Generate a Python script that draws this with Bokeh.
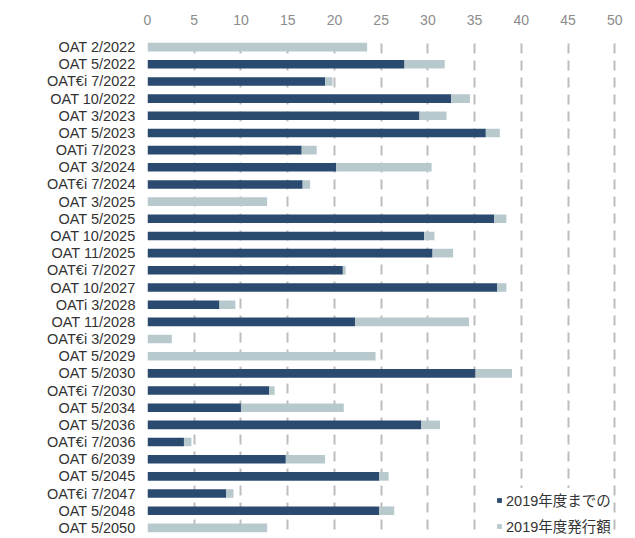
from bokeh.plotting import figure
from bokeh.models import (ColumnDataSource, FactorRange, Range1d, SingleIntervalTicker,
                          Legend, LegendItem)
from bokeh.embed import file_html
from bokeh.resources import INLINE

categories = ["OAT 2/2022", "OAT 5/2022", "OAT€i 7/2022", "OAT 10/2022", "OAT 3/2023", "OAT 5/2023",
              "OATi 7/2023", "OAT 3/2024", "OAT€i 7/2024", "OAT 3/2025", "OAT 5/2025", "OAT 10/2025",
              "OAT 11/2025", "OAT€i 7/2027", "OAT 10/2027", "OATi 3/2028", "OAT 11/2028", "OAT€i 3/2029",
              "OAT 5/2029", "OAT 5/2030", "OAT€i 7/2030", "OAT 5/2034", "OAT 5/2036", "OAT€i 7/2036",
              "OAT 6/2039", "OAT 5/2045", "OAT€i 7/2047", "OAT 5/2048", "OAT 5/2050"]
# outstanding up to FY2019 (dark)
until_2019 = [0.0, 27.5, 19.0, 32.5, 29.1, 36.2,
              16.5, 20.2, 16.6, 0.0, 37.1, 29.6,
              30.5, 20.9, 37.4, 7.7, 22.2, 0.0,
              0.0, 35.1, 13.0, 10.0, 29.3, 3.9,
              14.8, 24.8, 8.4, 24.8, 0.0]
# issued in FY2019 (light)
issued_2019 = [23.5, 4.3, 0.8, 2.0, 2.9, 1.5,
               1.6, 10.2, 0.8, 12.8, 1.3, 1.1,
               2.2, 0.3, 1.0, 1.7, 12.2, 2.6,
               24.4, 3.9, 0.6, 11.0, 2.0, 0.8,
               4.2, 1.0, 0.8, 1.6, 12.8]
x_ticks = [0, 5, 10, 15, 20, 25, 30, 35, 40, 45, 50]
series_names = ["2019年度までの", "2019年度発行額"]

DARK = "#2b4a6f"
LIGHT = "#b7c9cd"

total = [a + b for a, b in zip(until_2019, issued_2019)]
zeros = [0.0] * len(categories)
src = ColumnDataSource(dict(cat=categories, zero=zeros, dark=until_2019, total=total))

p = figure(width=635, height=538, output_backend="svg", toolbar_location=None,
           y_range=FactorRange(factors=list(reversed(categories)), range_padding=0),
           x_range=Range1d(0, 52), x_axis_location="above",
           min_border_left=147, min_border_right=2, min_border_top=38, min_border_bottom=2)
p.outline_line_color = None
p.background_fill_color = "white"
p.border_fill_color = "white"

r_dark = p.hbar(y="cat", left="zero", right="dark", height=0.5, source=src,
                fill_color=DARK, line_color=None)
r_light = p.hbar(y="cat", left="dark", right="total", height=0.5, source=src,
                 fill_color=LIGHT, line_color=None)

xa = p.xaxis[0]
xa.ticker = SingleIntervalTicker(interval=5)
xa.axis_line_color = None
xa.major_tick_line_color = None
xa.minor_tick_line_color = None
xa.major_tick_out = 0
xa.major_label_standoff = 10
xa.major_label_text_font = "Liberation Sans"
xa.major_label_text_font_size = "14px"
xa.major_label_text_color = "#8c8c8c"

ya = p.yaxis[0]
ya.axis_line_color = None
ya.major_tick_line_color = None
ya.minor_tick_line_color = None
ya.major_tick_out = 0
ya.major_label_standoff = 12
ya.major_label_text_font = "Liberation Sans"
ya.major_label_text_font_size = "14.5px"
ya.major_label_text_color = "#333333"

p.ygrid.grid_line_color = None
p.xgrid.grid_line_color = "#bdbdbd"
p.xgrid.grid_line_width = 2
p.xgrid.grid_line_dash = "10 7"
p.xgrid.grid_line_dash_offset = 10
p.xgrid.ticker = SingleIntervalTicker(interval=5)

legend = Legend(items=[LegendItem(label=series_names[0], renderers=[r_dark]),
                       LegendItem(label=series_names[1], renderers=[r_light])],
                location=(349, -1), orientation="vertical")
legend.label_text_font = "Liberation Sans, Noto Sans CJK JP"
legend.label_text_font_size = "14.5px"
legend.label_text_color = "#333333"
legend.glyph_width = 6
legend.glyph_height = 6
legend.label_standoff = 4
legend.label_height = 23
legend.spacing = 3
legend.padding = 0
legend.margin = 0
legend.border_line_color = None
legend.background_fill_color = "white"
legend.background_fill_alpha = 1.0
p.add_layout(legend, "center")

open("out.html", "w").write(file_html(p, INLINE))
